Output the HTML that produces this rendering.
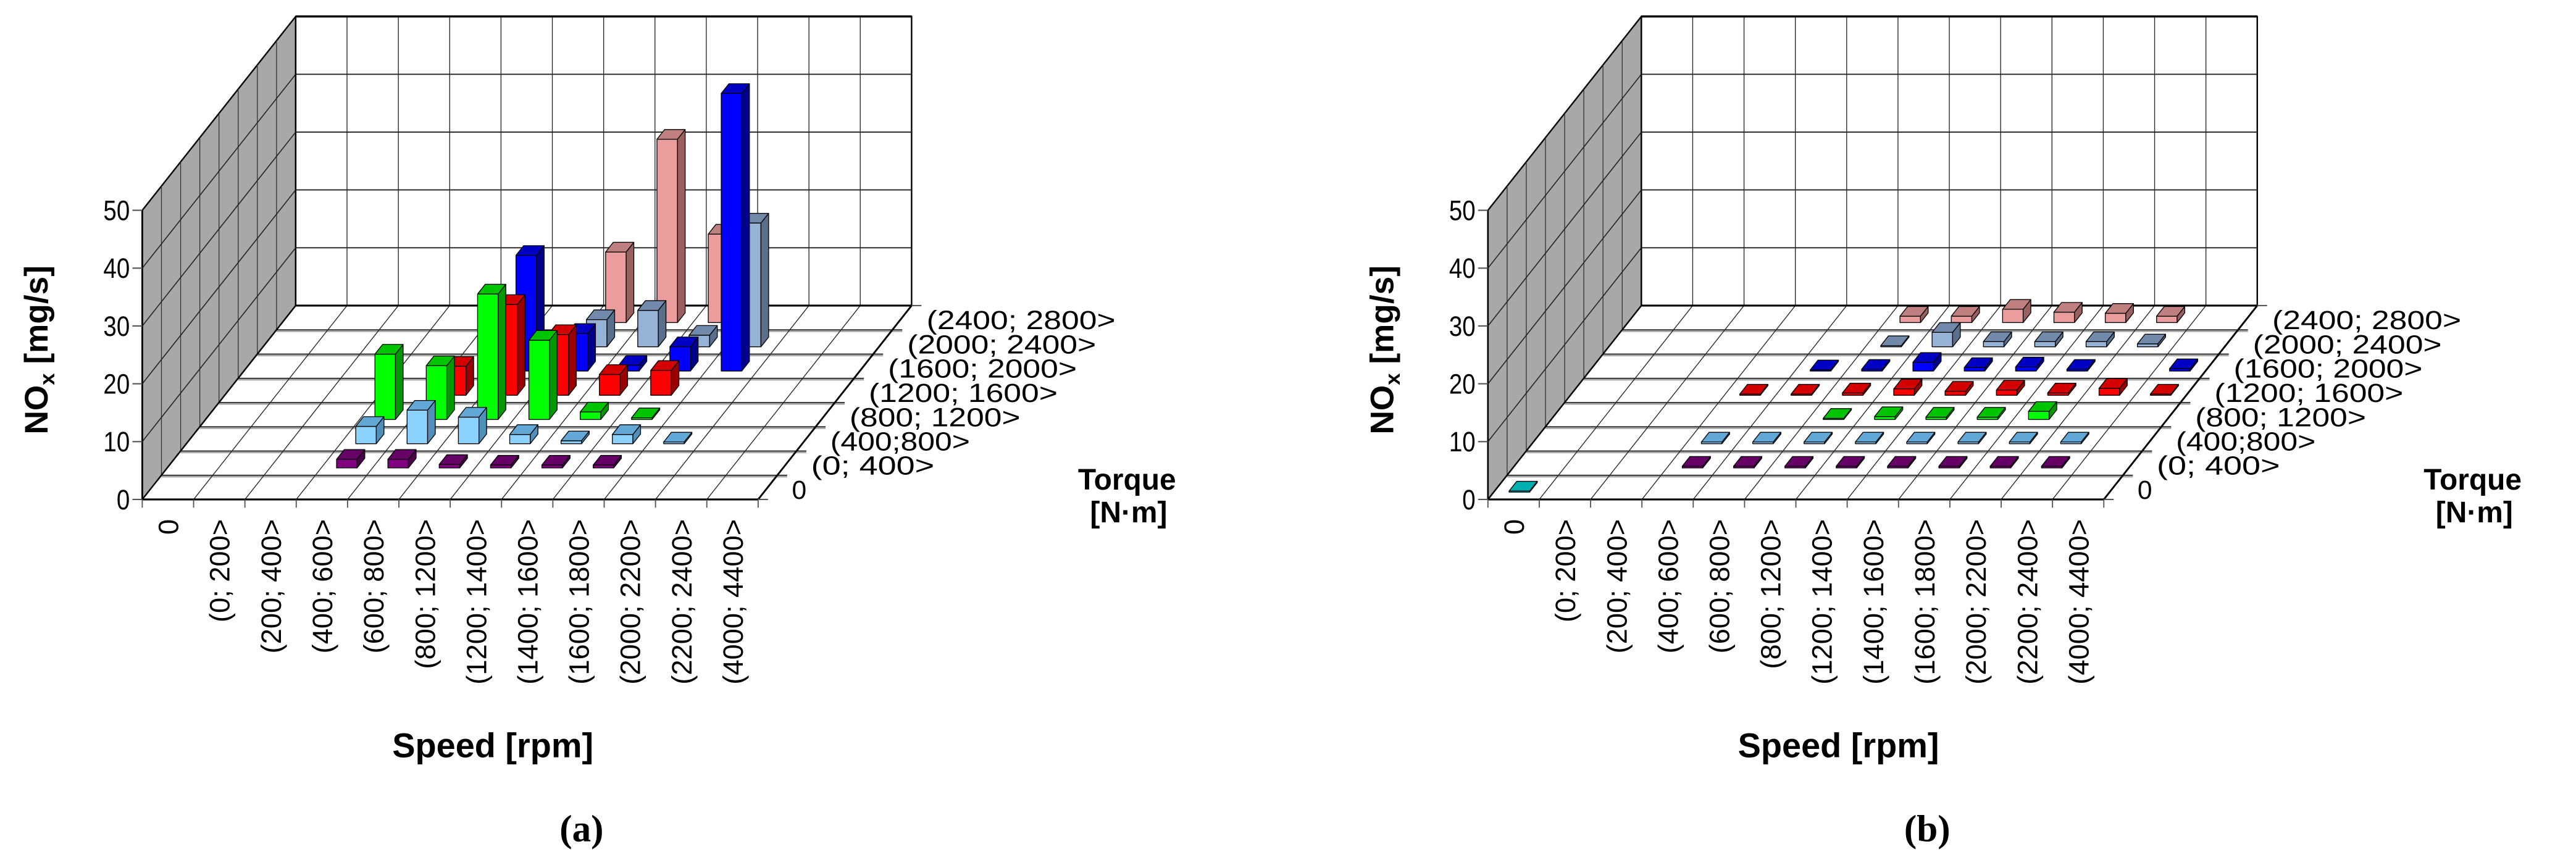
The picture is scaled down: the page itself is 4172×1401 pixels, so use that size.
<!DOCTYPE html>
<html><head><meta charset="utf-8"><style>
html,body{margin:0;padding:0;background:#fff;}
svg{display:block;}
text{font-family:"Liberation Sans",Arial,sans-serif;fill:#000;}
.b{font-weight:bold;}
.s{font-family:"Liberation Serif",serif;font-weight:bold;}
</style></head><body>
<svg id="sv" xmlns="http://www.w3.org/2000/svg" width="4172" height="1401" viewBox="0 0 1568 526.5" preserveAspectRatio="none">
<rect width="1568" height="526.5" fill="#fff"/>
<g id="shapes"></g>
<g id="ta">
  <g font-size="17" text-anchor="end">
    <text transform="translate(79,310) scale(0.85,1)">0</text>
    <text transform="translate(79,274.8) scale(0.85,1)">10</text>
    <text transform="translate(79,239.6) scale(0.85,1)">20</text>
    <text transform="translate(79,204.4) scale(0.85,1)">30</text>
    <text transform="translate(79,169.2) scale(0.85,1)">40</text>
    <text transform="translate(79,134) scale(0.85,1)">50</text>
  </g>
  <text class="b" font-size="20" transform="translate(29,213) rotate(-90)" text-anchor="middle">NO<tspan font-size="13" dy="4">x</tspan><tspan dy="-4"> [mg/s]</tspan></text>
  <g font-size="17" text-anchor="end">
    <text transform="translate(108.5,316) rotate(-90)">0</text>
    <text transform="translate(139.7,316) rotate(-90)">(0; 200&gt;</text>
    <text transform="translate(171,316) rotate(-90)">(200; 400&gt;</text>
    <text transform="translate(202.2,316) rotate(-90)">(400; 600&gt;</text>
    <text transform="translate(233.4,316) rotate(-90)">(600; 800&gt;</text>
    <text transform="translate(264.7,316) rotate(-90)">(800; 1200&gt;</text>
    <text transform="translate(295.9,316) rotate(-90)">(1200; 1400&gt;</text>
    <text transform="translate(327.2,316) rotate(-90)">(1400; 1600&gt;</text>
    <text transform="translate(358.4,316) rotate(-90)">(1600; 1800&gt;</text>
    <text transform="translate(389.6,316) rotate(-90)">(2000; 2200&gt;</text>
    <text transform="translate(420.9,316) rotate(-90)">(2200; 2400&gt;</text>
    <text transform="translate(452.1,316) rotate(-90)">(4000; 4400&gt;</text>
  </g>
  <text class="b" font-size="21" x="300" y="461" text-anchor="middle">Speed [rpm]</text>
  <g font-size="16">
    <text x="482" y="303.6">0</text>
    <text x="493.7" y="288.8" textLength="75" lengthAdjust="spacingAndGlyphs">(0; 400&gt;</text>
    <text x="505.4" y="274.1" textLength="85" lengthAdjust="spacingAndGlyphs">(400;800&gt;</text>
    <text x="517.1" y="259.4" textLength="104" lengthAdjust="spacingAndGlyphs">(800; 1200&gt;</text>
    <text x="528.8" y="244.6" textLength="115" lengthAdjust="spacingAndGlyphs">(1200; 1600&gt;</text>
    <text x="540.5" y="229.9" textLength="115" lengthAdjust="spacingAndGlyphs">(1600; 2000&gt;</text>
    <text x="552.2" y="215.1" textLength="115" lengthAdjust="spacingAndGlyphs">(2000; 2400&gt;</text>
    <text x="564" y="200.4" textLength="115" lengthAdjust="spacingAndGlyphs">(2400; 2800&gt;</text>
  </g>
  <text class="b" font-size="18" x="686" y="298" text-anchor="middle">Torque</text>
  <text class="b" font-size="18" x="687" y="318" text-anchor="middle">[N·m]</text>
  <text class="s" font-size="23" x="354" y="512" text-anchor="middle">(a)</text>
</g>
<g transform="translate(819.1,0)">
  <g font-size="17" text-anchor="end">
    <text transform="translate(79,310) scale(0.85,1)">0</text>
    <text transform="translate(79,274.8) scale(0.85,1)">10</text>
    <text transform="translate(79,239.6) scale(0.85,1)">20</text>
    <text transform="translate(79,204.4) scale(0.85,1)">30</text>
    <text transform="translate(79,169.2) scale(0.85,1)">40</text>
    <text transform="translate(79,134) scale(0.85,1)">50</text>
  </g>
  <text class="b" font-size="20" transform="translate(29,213) rotate(-90)" text-anchor="middle">NO<tspan font-size="13" dy="4">x</tspan><tspan dy="-4"> [mg/s]</tspan></text>
  <g font-size="17" text-anchor="end">
    <text transform="translate(108.5,316) rotate(-90)">0</text>
    <text transform="translate(139.7,316) rotate(-90)">(0; 200&gt;</text>
    <text transform="translate(171,316) rotate(-90)">(200; 400&gt;</text>
    <text transform="translate(202.2,316) rotate(-90)">(400; 600&gt;</text>
    <text transform="translate(233.4,316) rotate(-90)">(600; 800&gt;</text>
    <text transform="translate(264.7,316) rotate(-90)">(800; 1200&gt;</text>
    <text transform="translate(295.9,316) rotate(-90)">(1200; 1400&gt;</text>
    <text transform="translate(327.2,316) rotate(-90)">(1400; 1600&gt;</text>
    <text transform="translate(358.4,316) rotate(-90)">(1600; 1800&gt;</text>
    <text transform="translate(389.6,316) rotate(-90)">(2000; 2200&gt;</text>
    <text transform="translate(420.9,316) rotate(-90)">(2200; 2400&gt;</text>
    <text transform="translate(452.1,316) rotate(-90)">(4000; 4400&gt;</text>
  </g>
  <text class="b" font-size="21" x="300" y="461" text-anchor="middle">Speed [rpm]</text>
  <g font-size="16">
    <text x="482" y="303.6">0</text>
    <text x="493.7" y="288.8" textLength="75" lengthAdjust="spacingAndGlyphs">(0; 400&gt;</text>
    <text x="505.4" y="274.1" textLength="85" lengthAdjust="spacingAndGlyphs">(400;800&gt;</text>
    <text x="517.1" y="259.4" textLength="104" lengthAdjust="spacingAndGlyphs">(800; 1200&gt;</text>
    <text x="528.8" y="244.6" textLength="115" lengthAdjust="spacingAndGlyphs">(1200; 1600&gt;</text>
    <text x="540.5" y="229.9" textLength="115" lengthAdjust="spacingAndGlyphs">(1600; 2000&gt;</text>
    <text x="552.2" y="215.1" textLength="115" lengthAdjust="spacingAndGlyphs">(2000; 2400&gt;</text>
    <text x="564" y="200.4" textLength="115" lengthAdjust="spacingAndGlyphs">(2400; 2800&gt;</text>
  </g>
  <text class="b" font-size="18" x="686" y="298" text-anchor="middle">Torque</text>
  <text class="b" font-size="18" x="687" y="318" text-anchor="middle">[N·m]</text>
  <text class="s" font-size="23" x="354" y="512" text-anchor="middle">(b)</text>
</g>
</svg>
<script>
(function(){
var NS="http://www.w3.org/2000/svg",G=document.getElementById("shapes");
function P(ox,c,r,v){return [ox+86.6+31.24*c+11.675*r,304-14.75*r-3.52*(v||0)];}
function el(t,a){var e=document.createElementNS(NS,t);for(var k in a)e.setAttribute(k,a[k]);G.appendChild(e);return e;}
function poly(pts,fill,stroke,sw){el("polygon",{points:pts.map(function(p){return p[0].toFixed(2)+","+p[1].toFixed(2);}).join(" "),fill:fill,stroke:stroke||"#000","stroke-width":sw||0.5,"stroke-linejoin":"round"});}
function line(a,b,st,sw){el("line",{x1:a[0],y1:a[1],x2:b[0],y2:b[1],stroke:st,"stroke-width":sw});}
var C={
 1:["#800080","#4a004a","#660066"],
 2:["#8cd2ff","#4f8fb8","#62a8d6"],
 3:["#00ff00","#009a00","#00c400"],
 4:["#ff0000","#9a0000","#d40000"],
 5:["#0000ff","#00008a","#0000c4"],
 6:["#95b3d7","#5a6f8c","#7189aa"],
 7:["#eb9c9c","#9a6060","#c08080"],
 0:["#00cccc","#008080","#00b0b0"]};
function chart(ox,data){
 poly([P(ox,0,0,0),P(ox,0,0,50),P(ox,0,8,50),P(ox,0,8,0)],"#a8a8a8","#000",0.9);
 for(var r=1;r<8;r++)line(P(ox,0,r,0),P(ox,0,r,50),"#333",0.5);
 for(var v=10;v<50;v+=10)line(P(ox,0,0,v),P(ox,0,8,v),"#222",0.6);
 poly([P(ox,0,8,0),P(ox,12,8,0),P(ox,12,8,50),P(ox,0,8,50)],"#fff","#000",0.9);
 for(var c=1;c<12;c++)line(P(ox,c,8,0),P(ox,c,8,50),"#222",0.5);
 for(var v=10;v<50;v+=10)line(P(ox,0,8,v),P(ox,12,8,v),"#222",0.7);
 line(P(ox,0,8,50),P(ox,12,8,50),"#000",1.3);
 poly([P(ox,0,0,0),P(ox,12,0,0),P(ox,12,8,0),P(ox,0,8,0)],"#fff","none",0);
 for(var r=1;r<8;r++){var a=P(ox,0,r,0),b=P(ox,12,r,0);line([a[0],a[1]+0.8],[b[0]+6,b[1]+0.8],"#aaa",1.2);line(a,[b[0]+6,b[1]],"#222",0.6);}
 for(var c=1;c<12;c++)line(P(ox,c,0,0),P(ox,c,8,0),"#222",0.5);
 line(P(ox,0,0,0),P(ox,12,0,0),"#000",1.2);
 line(P(ox,12,0,0),P(ox,12,8,0),"#000",1.1);
 line(P(ox,0,8,0),P(ox,12,8,0),"#000",1.2);
 line(P(ox,0,0,0),P(ox,0,8,0),"#000",0.9);
 line(P(ox,0,0,0),P(ox,0,0,50),"#000",1);
 for(var v=0;v<=50;v+=10){var p=P(ox,0,0,v);line([p[0]-6,p[1]],p,"#555",0.8);}
 for(var c=0;c<=12;c++){var p=P(ox,c,0,0);line(p,[p[0],p[1]+5],"#555",0.7);}
 var p0=P(ox,12,0,0);line(p0,[p0[0]+6,p0[1]],"#555",0.8);
 var p8=P(ox,12,8,0);line(p8,[p8[0]+6,p8[1]],"#555",0.8);
 data.sort(function(a,b){return b[1]-a[1]||a[0]-b[0];});
 data.forEach(function(d){
  var c=d[0],r=d[1],v=d[2],col=C[d[3]!=null?d[3]:r],w=0.4,x0=c+0.3,r0=r+0.3;
  poly([P(ox,x0,r0,0),P(ox,x0+w,r0,0),P(ox,x0+w,r0,v),P(ox,x0,r0,v)],col[0]);
  poly([P(ox,x0+w,r0,0),P(ox,x0+w,r0+w,0),P(ox,x0+w,r0+w,v),P(ox,x0+w,r0,v)],col[1]);
  poly([P(ox,x0,r0,v),P(ox,x0+w,r0,v),P(ox,x0+w,r0+w,v),P(ox,x0,r0+w,v)],col[2]);
 });
}
var A=[
 [3,1,1.5],[4,1,1.5],[5,1,.6],[6,1,.5],[7,1,.5],[8,1,.5],
 [3,2,3],[4,2,5.8],[5,2,4.6],[6,2,1.6],[7,2,.5],[8,2,1.6],[9,2,.3],
 [3,3,11.3],[4,3,9.3],[5,3,21.7],[6,3,13.7],[7,3,1.3],[8,3,.3],
 [4,4,5],[5,4,15.7],[6,4,10.5],[7,4,3.6],[8,4,4.3],
 [5,5,20],[6,5,6.5],[7,5,1],[8,5,4.2],[9,5,48],
 [6,6,4.7],[7,6,6.3],[8,6,2],[9,6,21.4],
 [6,7,12.2],[7,7,31.7],[8,7,15.3]];
var B=[[0,0,.2,0]];
for(var c=3;c<=10;c++){B.push([c,1,.3]);B.push([c,2,.3]);}
[[5,.2],[6,.5],[7,.4],[8,.4],[9,1.4]].forEach(function(x){B.push([x[0],3,x[1]]);});
[[3,.2],[4,.2],[5,.4],[6,1.1],[7,.7],[8,.9],[9,.4],[10,1.2],[11,.2]].forEach(function(x){B.push([x[0],4,x[1]]);});
[[4,.2],[5,.3],[6,1.5],[7,.6],[8,.7],[9,.3],[11,.4]].forEach(function(x){B.push([x[0],5,x[1]]);});
[[5,.2],[6,2.5],[7,.9],[8,.9],[9,.9],[10,.5]].forEach(function(x){B.push([x[0],6,x[1]]);});
[[5,1.1],[6,1.1],[7,2.3],[8,1.8],[9,1.6],[10,1.1]].forEach(function(x){B.push([x[0],7,x[1]]);});
chart(0,A);chart(819.1,B);
})();
</script>
</body></html>
